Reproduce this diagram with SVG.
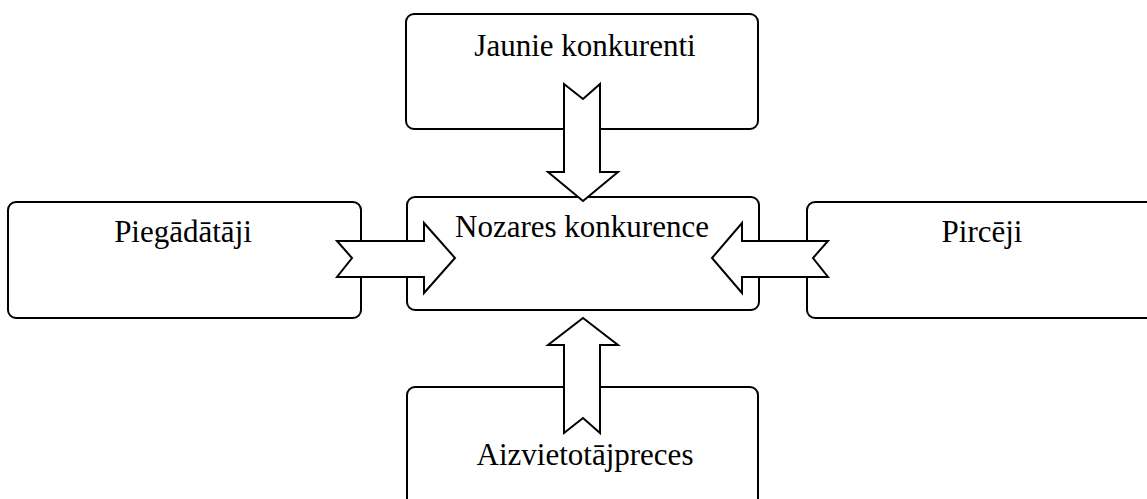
<svg xmlns="http://www.w3.org/2000/svg" width="1147" height="499" viewBox="0 0 1147 499">
<style>
.box{fill:#fff;stroke:#000;stroke-width:2}
.arr{fill:#fff;stroke:#000;stroke-width:2;stroke-linejoin:miter}
.lbl{font-family:"Liberation Serif","Times New Roman",serif;font-size:31px;fill:#000;text-anchor:middle}
</style>
<rect width="1147" height="499" fill="#fff"/>
<g id="node-jaunie">
<rect class="box" x="406" y="14" width="352" height="115" rx="8"/>
<text class="lbl" x="585" y="56">Jaunie konkurenti</text>
</g>
<g id="node-piegadataji">
<rect class="box" x="8" y="202" width="353" height="116" rx="8"/>
<text class="lbl" x="183" y="242">Piegādātāji</text>
</g>
<g id="node-nozares">
<rect class="box" x="407" y="197" width="352" height="113" rx="8"/>
<text class="lbl" x="582" y="237">Nozares konkurence</text>
</g>
<g id="node-pirceji">
<rect class="box" x="807" y="202" width="360" height="116" rx="8"/>
<text class="lbl" x="982" y="242">Pircēji</text>
</g>
<g id="node-aizvietotaj">
<rect class="box" x="407" y="387" width="351" height="130" rx="8"/>
<text class="lbl" x="585" y="465">Aizvietotājpreces</text>
</g>
<g id="connectors">
<polygon class="arr" points="564,84 583,99 600,84 600,172 618,172 583,201 548,172 564,172"/>
<polygon class="arr" points="337,241 424,241 424,223 455,258 424,293 424,277 337,277 352,258"/>
<polygon class="arr" points="828,241 742,241 742,223 712,258 742,293 742,277 828,277 813,258"/>
<polygon class="arr" points="564,433 583,418 600,433 600,345 618,345 583,318 548,345 564,345"/>
</g>
</svg>
